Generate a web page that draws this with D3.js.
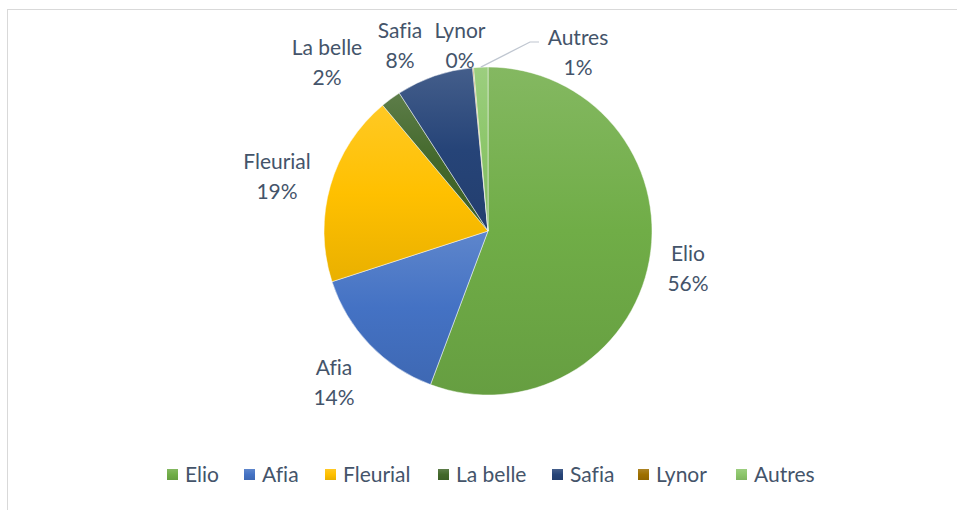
<!DOCTYPE html>
<html><head><meta charset="utf-8">
<script src="https://cdn.jsdelivr.net/npm/d3@7"></script>
<style>html,body{margin:0;padding:0;background:#fff;}svg{display:block;}text{font-variant-ligatures:none;font-feature-settings:"liga" 0;}</style>
</head><body>
<script>
const categories = ["Elio","Afia","Fleurial","La belle","Safia","Lynor","Autres"];
const values = [55.7, 14.3, 18.9, 2.0, 7.6, 0.1, 1.4];
const colors = ["#70AD47","#4472C4","#FFC000","#43682B","#264478","#9E7000","#8CC66A"];

const W = 957, H = 510;
const cx = 488, cy = 231, R = 164;
const font = "Lato, 'Liberation Sans', sans-serif";
const textColor = "#44546A";

const svg = d3.select("body").append("svg").attr("width", W).attr("height", H);
svg.append("rect").attr("x", 7.5).attr("y", 9.5).attr("width", 960).attr("height", 520)
  .attr("fill", "#fff").attr("stroke", "#D9D9D9").attr("stroke-width", 1);

const defs = svg.append("defs");
categories.forEach((c, i) => {
  const base = d3.color(colors[i]);
  const g = defs.append("linearGradient").attr("id", "g" + i)
    .attr("x1", 0).attr("y1", 0).attr("x2", 0).attr("y2", 1);
  g.append("stop").attr("offset", 0).attr("stop-color", d3.interpolateRgb(base, "#fff")(0.14));
  g.append("stop").attr("offset", 0.5).attr("stop-color", base.formatHex());
  g.append("stop").attr("offset", 1).attr("stop-color", base.darker(0.25).formatHex());
});

const total = d3.sum(values);
const pie = d3.pie().sort(null).value(d => d)(values);
const arc = d3.arc().innerRadius(0).outerRadius(R);
const gPie = svg.append("g").attr("transform", `translate(${cx},${cy})`);
gPie.selectAll("path").data(pie).join("path")
  .attr("d", arc)
  .attr("fill", (d, i) => `url(#g${i})`)
  .attr("stroke", "#fff").attr("stroke-width", 0.6).attr("stroke-opacity", 0.8);

// label positions (centers of first line) relative to pie center
const labelPos = [[200, 22], [-154, 136], [-211, -70], [-161, -184], [-88, -201], [-28, -201], [90, -194]];
const pct = values.map(v => Math.round(v / total * 100) + "%");
const gl = svg.append("g").attr("font-family", font).attr("font-size", 21).attr("fill", textColor)
  .attr("text-anchor", "middle");
categories.forEach((c, i) => {
  const [lx, ly] = labelPos[i];
  const t = gl.append("text").attr("x", cx + lx).attr("y", cy + ly);
  t.append("tspan").attr("x", cx + lx).attr("dy", "0.36em").text(c);
  t.append("tspan").attr("x", cx + lx).attr("dy", "1.45em").text(pct[i]);
});

// leader line for Autres
const aut = pie[6];
const mid = (aut.startAngle + aut.endAngle) / 2;
const p0 = [cx + Math.sin(mid) * R, cy - Math.cos(mid) * R];
svg.append("polyline")
  .attr("points", [p0, [cx + 42, cy - 189], [cx + 51, cy - 189]].map(p => p.join(",")).join(" "))
  .attr("fill", "none").attr("stroke", "#BFC6D0").attr("stroke-width", 1.2);

// legend
const legX = [167, 244, 325, 438, 552, 638, 736];
const lg = svg.append("g").attr("font-family", font).attr("font-size", 21).attr("fill", textColor);
categories.forEach((c, i) => {
  lg.append("rect").attr("x", legX[i]).attr("y", 469).attr("width", 11).attr("height", 11)
    .attr("fill", `url(#g${i})`);
  lg.append("text").attr("x", legX[i] + 18).attr("y", 482).text(c);
});
</script>
</body></html>
